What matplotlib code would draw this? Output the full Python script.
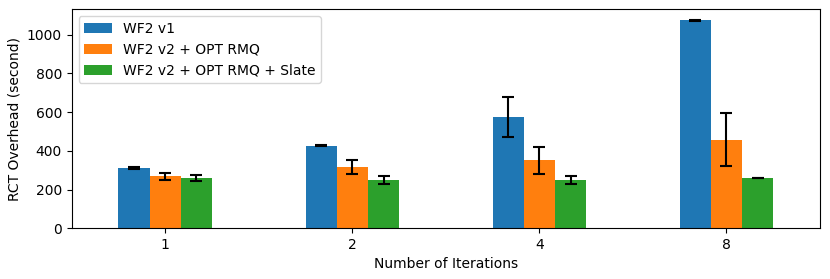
import matplotlib
matplotlib.use("Agg")
import matplotlib.pyplot as plt
import numpy as np

# data
iterations = ["1", "2", "4", "8"]
v1_mean = [311, 426, 574, 1075]
v1_err = [3, 2, 103, 3]
rmq_mean = [268, 317, 352, 456]
rmq_err = [17, 36, 70, 137]
slate_mean = [258, 249, 250, 259]
slate_err = [15, 20, 20, 1]

labels = ["WF2 v1", "WF2 v2 + OPT RMQ", "WF2 v2 + OPT RMQ + Slate"]

fig, ax = plt.subplots(figsize=(8.3, 2.79), dpi=100)
fig.subplots_adjust(left=0.0864, right=0.988, top=0.967, bottom=0.182)

x = np.arange(len(iterations))
w = 1 / 6
err_kw = dict(ecolor="black", elinewidth=1.5, capthick=1.5)

ax.bar(x - w, v1_mean, w, yerr=v1_err, capsize=4, label=labels[0], color="#1f77b4", error_kw=err_kw)
ax.bar(x, rmq_mean, w, yerr=rmq_err, capsize=4, label=labels[1], color="#ff7f0e", error_kw=err_kw)
ax.bar(x + w, slate_mean, w, yerr=slate_err, capsize=4, label=labels[2], color="#2ca02c", error_kw=err_kw)

ax.set_xticks(x)
ax.set_xticklabels(iterations)
ax.set_xlim(-0.5, 3.5)
ax.set_xlabel("Number of Iterations")
ax.set_ylabel("RCT Overhead (second)")
ax.legend(loc="upper left")

fig.savefig("out.png", dpi=100)
